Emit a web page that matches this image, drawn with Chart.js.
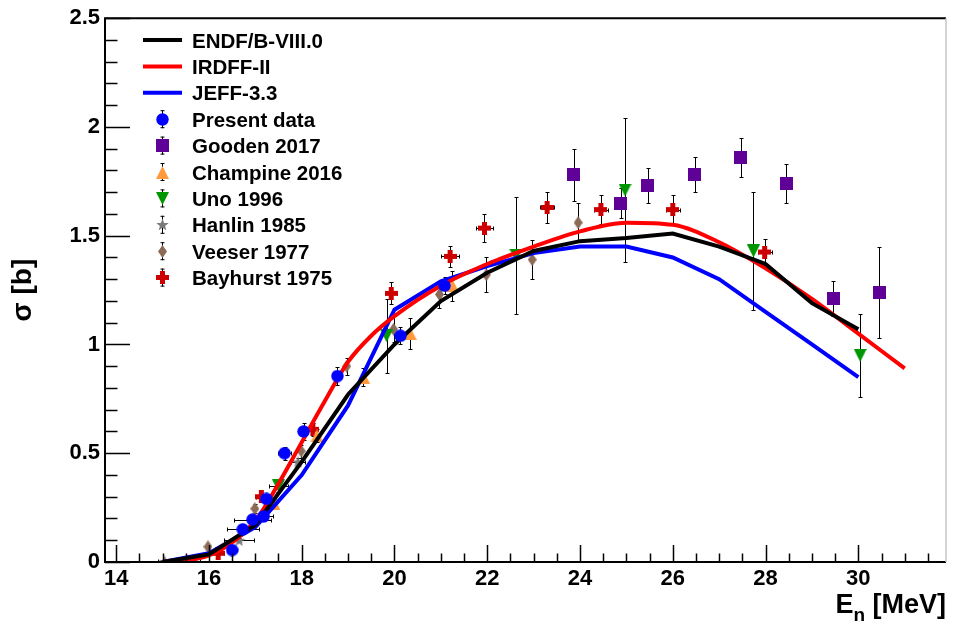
<!DOCTYPE html>
<html>
<head>
<meta charset="utf-8">
<script src="https://cdn.jsdelivr.net/npm/chart.js@4.4.0/dist/chart.umd.min.js"></script>
<style>
  html, body { margin: 0; padding: 0; background: #fff; }
</style>
</head>
<body>
<canvas id="xsChart" width="953" height="627"></canvas>
<script>
// evaluated libraries (E in MeV, sigma in b)
const endfE   = [15, 16, 17, 18, 19, 20, 21, 22, 23, 24, 25, 26, 27, 28, 29, 30];
const endfXS  = [0.0, 0.035, 0.17, 0.46, 0.77, 1.0, 1.2, 1.33, 1.43, 1.475, 1.49, 1.51, 1.45, 1.37, 1.19, 1.07];
const irdffE  = [15, 16, 17, 17.5, 18, 18.5, 19, 19.5, 20, 21, 22, 23, 24, 25, 26, 27, 28, 29, 30, 31];
const irdffXS = [0.0, 0.03, 0.19, 0.36, 0.55, 0.74, 0.92, 1.04, 1.13, 1.27, 1.37, 1.45, 1.52, 1.56, 1.55, 1.47, 1.35, 1.21, 1.05, 0.89];
const jeffE   = [15, 16, 17, 18, 19, 20, 21, 22, 23, 24, 25, 26, 27, 28, 29, 30];
const jeffXS  = [0.0, 0.04, 0.16, 0.40, 0.72, 1.16, 1.29, 1.36, 1.42, 1.45, 1.45, 1.40, 1.30, 1.15, 1.00, 0.85];

// measurements
const presentE   = [16.50, 16.73, 16.94, 17.18, 17.24, 17.63, 18.04, 18.77, 20.13, 21.08];
const presentXS  = [0.055, 0.15, 0.195, 0.21, 0.29, 0.50, 0.60, 0.855, 1.04, 1.27];
const presentDE  = [0.1, 0.35, 0.4, 0.2, 0.15, 0.15, 0.1, 0.1, 0.1, 0.1];
const presentDXS = [0.01, 0.02, 0.02, 0.02, 0.02, 0.03, 0.04, 0.04, 0.04, 0.04];

const goodenE   = [23.87, 24.88, 25.46, 26.47, 27.46, 28.45, 29.46, 30.45];
const goodenXS  = [1.78, 1.65, 1.73, 1.78, 1.86, 1.74, 1.21, 1.24];
const goodenDXS = [0.12, 0.07, 0.08, 0.08, 0.09, 0.09, 0.08, 0.21];

const champE   = [17.4, 18.33, 19.33, 20.34, 21.25];
const champXS  = [0.27, 0.58, 0.85, 1.05, 1.27];
const champDXS = [0.02, 0.03, 0.04, 0.07, 0.07];

const unoE   = [17.5, 19.83, 22.62, 24.97, 27.74, 30.04];
const unoXS  = [0.35, 1.04, 1.41, 1.71, 1.43, 0.95];
const unoDE  = [0.2, 0, 0, 0, 0, 0];
const unoDXS = [0.03, 0.17, 0.27, 0.33, 0.27, 0.19];

const hanlinE   = [15.05, 15.65, 16.65, 17.92];
const hanlinXS  = [0.003, 0.005, 0.10, 0.46];
const hanlinDE  = [0.15, 0.15, 0.33, 0.15];
const hanlinDXS = [0.005, 0.005, 0.01, 0.02];

const veeserE   = [15.98, 16.99, 17.99, 18.97, 19.98, 20.97, 21.98, 22.97, 23.96];
const veeserXS  = [0.07, 0.245, 0.51, 0.90, 1.07, 1.23, 1.32, 1.39, 1.56];
const veeserDXS = [0.01, 0.02, 0.03, 0.04, 0.06, 0.06, 0.08, 0.09, 0.09];

const bayE   = [16.2, 17.13, 18.24, 19.93, 21.2, 21.94, 23.29, 24.45, 26.0, 27.98];
const bayXS  = [0.04, 0.30, 0.61, 1.235, 1.405, 1.535, 1.63, 1.62, 1.62, 1.425];
const bayDE  = [0.12, 0.12, 0.12, 0.12, 0.2, 0.18, 0.15, 0.15, 0.15, 0.15];
const bayDXS = [0.01, 0.02, 0.03, 0.05, 0.05, 0.065, 0.07, 0.065, 0.065, 0.06];

const xMin = 13.76, xMax = 31.89;
const yMin = 0, yMax = 2.5;

const FONT = '"Liberation Sans", Arial, Helvetica, sans-serif';

function pts(xs, ys) { return xs.map((x, i) => ({ x: x, y: ys[i] })); }

// marker images, ROOT style
function marker(shape, color, w, h) {
  const c = document.createElement('canvas');
  c.width = w; c.height = h;
  const g = c.getContext('2d');
  g.fillStyle = color;
  g.beginPath();
  if (shape === 'circle') {
    g.arc(w / 2, h / 2, w / 2 - 0.3, 0, Math.PI * 2);
  } else if (shape === 'square') {
    g.rect(0, 0, w, h);
  } else if (shape === 'up') {
    g.moveTo(w / 2, 0); g.lineTo(w, h); g.lineTo(0, h);
  } else if (shape === 'down') {
    g.moveTo(0, 0); g.lineTo(w, 0); g.lineTo(w / 2, h);
  } else if (shape === 'diamond') {
    g.moveTo(w / 2, 0); g.lineTo(w, h / 2); g.lineTo(w / 2, h); g.lineTo(0, h / 2);
  } else if (shape === 'star') {
    const R = w / 2, r = R * 0.42;
    for (let k = 0; k < 10; k++) {
      const a = -Math.PI / 2 + k * Math.PI / 5;
      const rr = k % 2 ? r : R;
      const px = w / 2 + rr * Math.cos(a), py = h / 2 + 0.6 + rr * Math.sin(a);
      if (k === 0) g.moveTo(px, py); else g.lineTo(px, py);
    }
  } else if (shape === 'cross') {
    const t = 5;
    g.rect((w - t) / 2, 0, t, h);
    g.rect(0, (h - t) / 2, w, t);
  }
  g.closePath();
  g.fill();
  return c;
}

const mkPresent = marker('circle', '#0000ff', 13, 13);
const mkGooden  = marker('square', '#5f0096', 13, 13);
const mkChamp   = marker('up', '#ff9a3c', 13, 13);
const mkUno     = marker('down', '#009600', 13, 13);
const mkHanlin  = marker('star', '#7a7a7a', 13, 13);
const mkVeeser  = marker('diamond', '#8c6a58', 9, 13);
const mkBay     = marker('cross', '#cc0000', 13, 13);

function lineSet(label, xs, ys, color, mono) {
  return {
    label: label, data: pts(xs, ys), showLine: true, borderColor: color, backgroundColor: color,
    borderWidth: 4, pointRadius: 0, pointHoverRadius: 0, tension: 0,
    cubicInterpolationMode: mono ? 'monotone' : 'default', order: 1, isCurve: true
  };
}
function dataSet(label, xs, ys, dx, dy, img, order) {
  return {
    label: label, data: pts(xs, ys), showLine: false, pointStyle: img, pointRadius: 6,
    pointHoverRadius: 6, errX: dx, errY: dy, order: order
  };
}

const datasets = [
  lineSet('ENDF/B-VIII.0', endfE, endfXS, '#000000', false),
  lineSet('IRDFF-II', irdffE, irdffXS, '#ff0000', true),
  lineSet('JEFF-3.3', jeffE, jeffXS, '#0000ff', false),
  dataSet('Present data', presentE, presentXS, presentDE, presentDXS, mkPresent, 0),
  dataSet('Gooden 2017', goodenE, goodenXS, null, goodenDXS, mkGooden, 2),
  dataSet('Champine 2016', champE, champXS, null, champDXS, mkChamp, 2),
  dataSet('Uno 1996', unoE, unoXS, unoDE, unoDXS, mkUno, 2),
  dataSet('Hanlin 1985', hanlinE, hanlinXS, hanlinDE, hanlinDXS, mkHanlin, 2),
  dataSet('Veeser 1977', veeserE, veeserXS, null, veeserDXS, mkVeeser, 2),
  dataSet('Bayhurst 1975', bayE, bayXS, bayDE, bayDXS, mkBay, 2)
];

// error bars behind the markers
const errorBars = {
  id: 'errorBars',
  beforeDatasetsDraw(chart) {
    const { ctx, chartArea: a, scales: { x: xs, y: ys } } = chart;
    ctx.save();
    ctx.beginPath();
    ctx.rect(a.left, a.top, a.right - a.left, a.bottom - a.top);
    ctx.clip();
    ctx.strokeStyle = '#000';
    ctx.lineWidth = 1;
    chart.data.datasets.forEach(ds => {
      if (!ds.errY) return;
      ds.data.forEach((p, j) => {
        const px = Math.round(xs.getPixelForValue(p.x)) + 0.5;
        const py = Math.round(ys.getPixelForValue(p.y)) + 0.5;
        const ey = ds.errY[j] || 0, ex = ds.errX ? (ds.errX[j] || 0) : 0;
        ctx.beginPath();
        if (ey) {
          const y1 = Math.round(ys.getPixelForValue(p.y + ey)) + 0.5;
          const y2 = Math.round(ys.getPixelForValue(p.y - ey)) + 0.5;
          ctx.moveTo(px, y1); ctx.lineTo(px, y2);
          ctx.moveTo(px - 2, y1); ctx.lineTo(px + 2, y1);
          ctx.moveTo(px - 2, y2); ctx.lineTo(px + 2, y2);
        }
        if (ex) {
          const x1 = Math.round(xs.getPixelForValue(p.x - ex)) + 0.5;
          const x2 = Math.round(xs.getPixelForValue(p.x + ex)) + 0.5;
          ctx.moveTo(x1, py); ctx.lineTo(x2, py);
          ctx.moveTo(x1, py - 2); ctx.lineTo(x1, py + 2);
          ctx.moveTo(x2, py - 2); ctx.lineTo(x2, py + 2);
        }
        ctx.stroke();
      });
    });
    ctx.restore();
  }
};

// ROOT-like frame, inward ticks, x title and legend
const frameAndLegend = {
  id: 'frameAndLegend',
  afterDraw(chart) {
    const { ctx, chartArea: a, scales: { x: xs, y: ys } } = chart;
    ctx.save();
    ctx.strokeStyle = '#000';

    // minor / major ticks
    ctx.lineWidth = 1.5;
    ctx.beginPath();
    for (let v = 14; v <= xMax + 1e-9; v += 0.5) {
      const px = Math.round(xs.getPixelForValue(v)) + 0.5;
      const len = (Math.abs(v % 2) < 1e-9) ? 17 : 8.5;
      ctx.moveTo(px, a.bottom); ctx.lineTo(px, a.bottom - len);
    }
    for (let v = 0; v <= yMax + 1e-9; v += 0.1) {
      const py = Math.round(ys.getPixelForValue(v)) + 0.5;
      const major = Math.abs(v * 2 - Math.round(v * 2)) < 1e-6;
      ctx.moveTo(a.left, py); ctx.lineTo(a.left + (major ? 25 : 12.5), py);
    }
    ctx.stroke();

    // frame
    ctx.lineWidth = 2;
    ctx.beginPath();
    ctx.moveTo(a.right, a.top); ctx.lineTo(a.left, a.top);
    ctx.lineTo(a.left, a.bottom); ctx.lineTo(a.right, a.bottom);
    ctx.stroke();
    ctx.strokeStyle = '#c4c4c4';
    ctx.lineWidth = 1.5;
    ctx.beginPath();
    ctx.moveTo(a.right, a.top); ctx.lineTo(a.right, a.bottom);
    ctx.stroke();

    // x axis title with subscript
    ctx.fillStyle = '#000';
    ctx.textBaseline = 'alphabetic';
    ctx.textAlign = 'left';
    const big = 'bold 27px ' + FONT, small = 'bold 19px ' + FONT;
    ctx.font = big;
    const wE = ctx.measureText('E').width, wRest = ctx.measureText(' [MeV]').width;
    ctx.font = small;
    const wn = ctx.measureText('n').width;
    let tx = a.right - (wE + wn + wRest);
    const base = 613;
    ctx.font = big; ctx.fillText('E', tx, base); tx += wE;
    ctx.font = small; ctx.fillText('n', tx, base + 8); tx += wn;
    ctx.font = big; ctx.fillText(' [MeV]', tx, base);

    // legend
    const rowY0 = 40, dy = 26.4, mx = 162;
    ctx.font = 'bold 20.5px ' + FONT;
    chart.data.datasets.forEach((ds, i) => {
      const ry = rowY0 + i * dy;
      if (ds.isCurve) {
        ctx.strokeStyle = ds.borderColor;
        ctx.lineWidth = 4;
        ctx.beginPath();
        ctx.moveTo(143, ry); ctx.lineTo(182, ry);
        ctx.stroke();
      } else {
        ctx.strokeStyle = '#000';
        ctx.lineWidth = 1;
        ctx.beginPath();
        ctx.moveTo(mx + 0.5, ry - 9); ctx.lineTo(mx + 0.5, ry + 9);
        ctx.moveTo(mx - 1.5, ry - 9 + 0.5); ctx.lineTo(mx + 2.5, ry - 9 + 0.5);
        ctx.moveTo(mx - 1.5, ry + 9 - 0.5); ctx.lineTo(mx + 2.5, ry + 9 - 0.5);
        ctx.stroke();
        const img = ds.pointStyle;
        ctx.drawImage(img, Math.round(mx + 0.5 - img.width / 2), Math.round(ry - img.height / 2));
      }
      ctx.fillStyle = '#000';
      ctx.fillText(ds.label, 192, ry + 7.5);
    });
    ctx.restore();
  }
};

const ctx = document.getElementById('xsChart').getContext('2d');
new Chart(ctx, {
  type: 'scatter',
  data: { datasets: datasets },
  options: {
    responsive: false,
    devicePixelRatio: 1,
    animation: false,
    layout: { padding: { left: 0, right: 5, top: 17, bottom: 0 } },
    plugins: { legend: { display: false }, tooltip: { enabled: false } },
    scales: {
      x: {
        type: 'linear', min: xMin, max: xMax,
        grid: { display: false, drawTicks: false },
        border: { display: false },
        ticks: {
          stepSize: 2, includeBounds: false, autoSkip: false, maxRotation: 0, padding: 4,
          color: '#000', font: { family: FONT, size: 22, weight: 'bold' }
        },
        afterFit(s) { s.height = 65; }
      },
      y: {
        type: 'linear', min: yMin, max: yMax,
        grid: { display: false, drawTicks: false },
        border: { display: false },
        title: {
          display: true, text: 'σ [b]', color: '#000',
          font: { family: FONT, size: 28, weight: 'bold' }, padding: { top: 6, bottom: 0 }
        },
        ticks: {
          stepSize: 0.5, includeBounds: false, padding: 5, color: '#000',
          font: { family: FONT, size: 22, weight: 'bold' },
          callback: v => String(v)
        },
        afterFit(s) { s.width = 105; }
      }
    }
  },
  plugins: [errorBars, frameAndLegend]
});
</script>
</body>
</html>
